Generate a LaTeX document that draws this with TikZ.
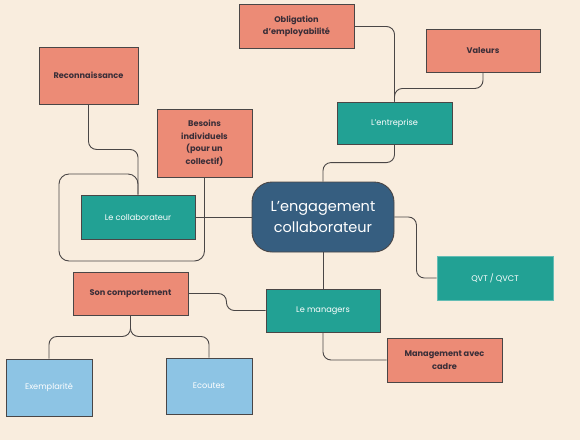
\documentclass[tikz,border=0pt]{standalone}
\usepackage{fontspec}
\setmainfont{Poppins}
\usetikzlibrary{positioning}
\definecolor{bg}{HTML}{F9EDDE}
\definecolor{salmon}{HTML}{EC8B76}
\definecolor{teal}{HTML}{22A194}
\definecolor{navy}{HTML}{365E80}
\definecolor{sky}{HTML}{8DC4E4}
\definecolor{edge}{HTML}{4A4646}
\definecolor{ink}{HTML}{3A2E38}
\tikzset{
  base/.style={rectangle, draw=edge, line width=0.9pt, inner sep=2pt, align=center, font=\fontsize{8.2}{12.5}\selectfont},
  salbox/.style={base, fill=salmon, text=ink, font=\fontsize{8.2}{12.5}\selectfont\bfseries},
  tealbox/.style={base, fill=teal, text=white},
  skybox/.style={base, fill=sky, text=white},
  link/.style={draw=edge, line width=0.9pt, rounded corners=8pt},
}
\begin{document}
\begin{tikzpicture}[x=1pt,y=-1pt]
\fill[bg] (0,0) rectangle (580,440);
\useasboundingbox (0,0) rectangle (580,440);

\node[salbox, minimum width=115pt, minimum height=44pt] (oblig) at (296.5,26.5) {Obligation\\d’employabilité};
\node[salbox, minimum width=114pt, minimum height=43pt] (valeurs) at (483,50.5) {Valeurs};
\node[tealbox, minimum width=115pt, minimum height=42pt] (entreprise) at (394.5,123) {L’entreprise};
\node[salbox, minimum width=99pt, minimum height=57pt] (recon) at (88.5,75.5) {Reconnaissance};
\node[salbox, minimum width=95pt, minimum height=68pt] (besoins) at (204.5,143) {Besoins\\individuels\\(pour un\\collectif)};
\node[tealbox, minimum width=114pt, minimum height=44pt] (collab) at (138,217) {Le collaborateur};
\node[rectangle, rounded corners=20pt, fill=navy, draw=edge, line width=0.9pt, text=white, align=center,
      minimum width=142pt, minimum height=70pt, font=\fontsize{14.5}{21}\selectfont] (center) at (323,217) {L’engagement\\collaborateur};
\node[tealbox, draw=teal!70!white, minimum width=116pt, minimum height=44pt] (qvt) at (495,278) {QVT / QVCT};
\node[tealbox, minimum width=114pt, minimum height=43pt] (managers) at (323,310.5) {Le managers};
\node[salbox, minimum width=115pt, minimum height=44pt] (mgmt) at (444.5,360) {Management avec\\cadre};
\node[salbox, minimum width=115pt, minimum height=43pt] (sonc) at (130.5,293.5) {Son comportement};
\node[skybox, minimum width=86pt, minimum height=57pt] (exemp) at (49,387.5) {Exemplarité};
\node[skybox, minimum width=86pt, minimum height=56pt] (ecoutes) at (209,386) {Ecoutes};

\coordinate (lp1) at (59,261);
\coordinate (lp2) at (59,174);

\draw[link] (center.north) -- ++(0,-19) -| (entreprise.south);
\draw[link] (oblig.east) -| (entreprise.north);
\draw[link] (valeurs.south) -- ++(0,16) -| (entreprise.north);
\draw[link] (center.east) -- ++(22,0) |- (qvt.west);
\draw[link] (center.south) -- (managers.north);
\draw[link] (managers.south) |- (mgmt.west);
\draw[link] (sonc.east) -- ++(38,0) |- (managers.west);
\draw[link] (sonc.south) -- ++(0,21) -| (exemp.north);
\draw[link] (sonc.south) -- ++(0,21) -| (ecoutes.north);
\draw[link] (recon.south) -- ++(0,45) -| (collab.north);
\draw[link, rounded corners=10pt] (besoins.south) |- (lp1) -- (lp2) -| (collab.north);
\draw[link] (collab.east) -- (center.west);
\end{tikzpicture}
\end{document}
